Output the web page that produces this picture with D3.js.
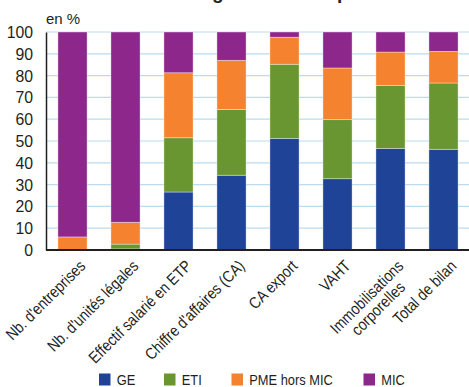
<!DOCTYPE html>
<html><head><meta charset="utf-8">
<script src="https://cdn.jsdelivr.net/npm/d3@7"></script>
<style>
html,body{margin:0;padding:0;background:#fff;}
svg{display:block;}
text{font-family:"Liberation Sans Narrow","Arial Narrow","Liberation Sans",sans-serif;fill:#231f20;}
</style></head>
<body>
<svg id="c" width="469" height="387"></svg>
<script>
const categories = ["Nb. d'entreprises","Nb. d'unités légales","Effectif salarié en ETP","Chiffre d'affaires (CA)","CA export","VAHT","Immobilisations|corporelles","Total de bilan"];
const seriesNames = ["GE","ETI","PME hors MIC","MIC"];
const GE  = [0.0, 0.5, 26.6, 34.3, 51.2, 32.7, 46.6, 46.2];
const ETI = [0.1, 2.2, 24.9, 30.2, 34.0, 27.1, 28.9, 30.4];
const PME = [5.9, 10.0, 29.8, 22.5, 12.4, 23.7, 15.3, 14.5];
const MIC = [94.0, 87.3, 18.7, 13.0, 2.4, 16.5, 9.2, 8.9];
const yTicks = [0,10,20,30,40,50,60,70,80,90,100];
const colors = ["#1f4397","#6a9631","#f4822f","#8e278b"];
const title = "Poids des catégories d'entreprises";

const svg = d3.select("#c");
const x = d3.scaleBand().domain(categories).range([46,470]).paddingInner(0.45).paddingOuter(0.225);
const y = d3.scaleLinear().domain([0,100]).range([250,32]);
const SX = 0.83;

// title (cropped at top in the reference)
svg.append("text").attr("x",236).attr("y",-1).attr("text-anchor","middle")
  .style("font-family","'Liberation Sans',sans-serif").style("font-weight","bold").style("font-size","19px").text(title);

// gridlines
svg.append("g").selectAll("line").data(yTicks.filter(d=>d>0)).join("line")
  .attr("x1",46).attr("x2",469).attr("y1",d=>y(d)).attr("y2",d=>y(d))
  .attr("stroke","#b9dcf0").attr("stroke-width",1.2);

// stacked data
const rows = categories.map((c,i)=>({cat:c,GE:GE[i],ETI:ETI[i],"PME hors MIC":PME[i],MIC:MIC[i]}));
const stack = d3.stack().keys(seriesNames)(rows);
svg.append("g").selectAll("g").data(stack).join("g").attr("fill",(d,i)=>colors[i])
  .selectAll("rect").data(d=>d).join("rect")
  .attr("x",d=>x(d.data.cat)).attr("width",x.bandwidth())
  .attr("y",d=>y(d[1])).attr("height",d=>Math.max(0,y(d[0])-y(d[1])))
  .attr("stroke","rgba(255,255,255,0.45)").attr("stroke-width",0.8);

// y axis
const gy = svg.append("g").attr("transform","translate(46,0)").call(d3.axisLeft(y).tickValues(yTicks).tickSize(0).tickFormat(""));
gy.select(".domain").attr("stroke","#231f20").attr("stroke-width",1.5);
svg.append("g").selectAll("text").data(yTicks).join("text")
  .attr("text-anchor","end")
  .attr("transform",d=>`translate(33,${y(d)+6}) scale(0.93,1)`)
  .style("font-size","17px").text(d=>d);

// x axis
const gx = svg.append("g").attr("transform","translate(0,250)").call(d3.axisBottom(x).tickSize(0).tickFormat(""));
gx.select(".domain").attr("stroke","#231f20").attr("stroke-width",1.8).attr("d","M46,0H469");

// x labels
const lab = svg.append("g").selectAll("text").data(categories).join("text")
  .attr("text-anchor","end")
  .attr("transform",d=>`translate(${x(d)+x.bandwidth()/2+14},${267}) rotate(-45) scale(0.86,1)`)
  .style("font-size","16.2px");
lab.each(function(d){
  const parts = d.split("|");
  const t = d3.select(this);
  const spans = parts.map((p,i)=> t.append("tspan").attr("x",0).attr("dy", i===0 ? "0em" : "1em").text(p));
  if (parts.length>1){
    const L0 = spans[0].node().getComputedTextLength();
    spans.forEach((s,i)=>{ if(i>0){ const L = s.node().getComputedTextLength(); s.attr("x", -(L0-L)/2); }});
  }
});

// en %
svg.append("text").attr("x",46).attr("y",24).style("font-size","15px").text("en %");

// legend
const legX = [99,164,231.5,363.5];
const leg = svg.append("g").selectAll("g").data(seriesNames).join("g")
  .attr("transform",(d,i)=>`translate(${legX[i]},373.5)`);
leg.append("rect").attr("width",11.5).attr("height",12).attr("fill",(d,i)=>colors[i]);
leg.append("text").attr("transform",`translate(17.7,11.7) scale(${SX},1)`).style("font-size","15.5px").text(d=>d);
</script>
</body></html>
